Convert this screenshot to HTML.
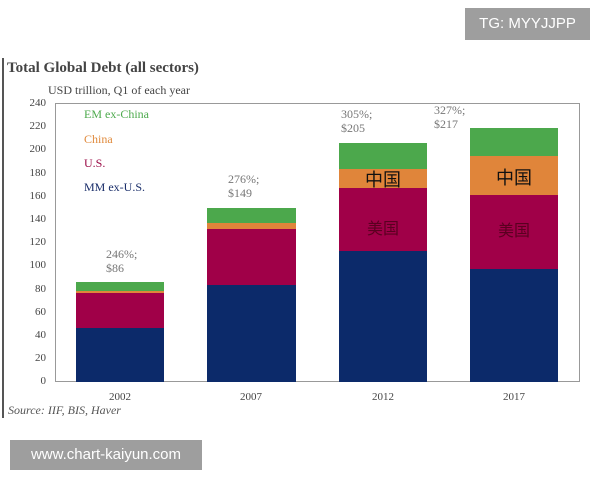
<!DOCTYPE html>
<html><head><meta charset="utf-8"><style>
body{margin:0;width:600px;height:480px;background:#fff;position:relative;overflow:hidden;font-family:"Liberation Serif","Noto Serif CJK SC",serif}
.a{position:absolute}
.t{font-size:11px;color:#444}
.bar{position:absolute}
</style></head><body>
<div class="a" style="left:465px;top:8px;width:125px;height:32px;background:#9e9e9e;color:#fff;font:15px 'Liberation Sans',sans-serif;line-height:32px;text-align:center">TG: MYYJJPP</div>
<div class="a" style="left:2px;top:58px;width:2px;height:360px;background:#555"></div>
<div class="a" style="left:7px;top:60px;font-weight:bold;font-size:15px;color:#444">Total Global Debt (all sectors)</div>
<div class="a t" style="left:48px;top:83px;font-size:12px">USD trillion, Q1 of each year</div>
<div class="a" style="left:55px;top:103px;width:525px;height:279px;border:1px solid #999;box-sizing:border-box"></div>
<div class="a t" style="left:20px;top:96px;width:26px;text-align:right;line-height:14px">
<div style="height:23.2px">240</div><div style="height:23.2px">220</div><div style="height:23.2px">200</div><div style="height:23.2px">180</div><div style="height:23.2px">160</div><div style="height:23.2px">140</div><div style="height:23.2px">120</div><div style="height:23.2px">100</div><div style="height:23.2px">80</div><div style="height:23.2px">60</div><div style="height:23.2px">40</div><div style="height:23.2px">20</div><div style="height:23.2px">0</div></div>
<div class="a" style="left:84px;top:107px;font-size:12px;color:#4caa4c">EM ex-China</div>
<div class="a" style="left:84px;top:132px;font-size:12px;color:#e08a3c">China</div>
<div class="a" style="left:84px;top:156px;font-size:12px;color:#9a0a45">U.S.</div>
<div class="a" style="left:84px;top:180px;font-size:12px;color:#1a2e6a">MM ex-U.S.</div>
<!-- bars -->
<div class="bar" style="left:76px;top:282px;width:88px;height:10px;background:#4ca84c"></div>
<div class="bar" style="left:76px;top:291px;width:88px;height:3px;background:#e0853a"></div>
<div class="bar" style="left:76px;top:293px;width:88px;height:35px;background:#a00048"></div>
<div class="bar" style="left:76px;top:328px;width:88px;height:54px;background:#0c2a6a"></div>
<div class="bar" style="left:207px;top:208px;width:89px;height:15px;background:#4ca84c"></div>
<div class="bar" style="left:207px;top:223px;width:89px;height:6px;background:#e0853a"></div>
<div class="bar" style="left:207px;top:229px;width:89px;height:56px;background:#a00048"></div>
<div class="bar" style="left:207px;top:285px;width:89px;height:97px;background:#0c2a6a"></div>
<div class="bar" style="left:339px;top:143px;width:88px;height:26px;background:#4ca84c"></div>
<div class="bar" style="left:339px;top:169px;width:88px;height:19px;background:#e0853a"></div>
<div class="bar" style="left:339px;top:188px;width:88px;height:63px;background:#a00048"></div>
<div class="bar" style="left:339px;top:251px;width:88px;height:131px;background:#0c2a6a"></div>
<div class="bar" style="left:470px;top:128px;width:88px;height:28px;background:#4ca84c"></div>
<div class="bar" style="left:470px;top:156px;width:88px;height:39px;background:#e0853a"></div>
<div class="bar" style="left:470px;top:195px;width:88px;height:74px;background:#a00048"></div>
<div class="bar" style="left:470px;top:269px;width:88px;height:113px;background:#0c2a6a"></div>
<div class="a" style="left:339px;top:166px;width:88px;text-align:center;font:18px 'Noto Sans CJK SC',sans-serif;color:#111">中国</div>
<div class="a" style="left:470px;top:164px;width:88px;text-align:center;font:18px 'Noto Sans CJK SC',sans-serif;color:#111">中国</div>
<div class="a" style="left:339px;top:215px;width:88px;text-align:center;font:16px 'Noto Sans CJK SC',sans-serif;color:#5a0020">美国</div>
<div class="a" style="left:470px;top:217px;width:88px;text-align:center;font:16px 'Noto Sans CJK SC',sans-serif;color:#5a0020">美国</div>
<div class="a t" style="left:106px;top:247px;font-size:12px;line-height:14px;color:#777">246%;<br>$86</div>
<div class="a t" style="left:228px;top:172px;font-size:12px;line-height:14px;color:#777">276%;<br>$149</div>
<div class="a t" style="left:341px;top:107px;font-size:12px;line-height:14px;color:#777">305%;<br>$205</div>
<div class="a t" style="left:434px;top:103px;font-size:12px;line-height:14px;color:#777">327%;<br>$217</div>
<div class="a t" style="left:100px;top:391px;width:40px;text-align:center">2002</div>
<div class="a t" style="left:231px;top:391px;width:40px;text-align:center">2007</div>
<div class="a t" style="left:363px;top:391px;width:40px;text-align:center">2012</div>
<div class="a t" style="left:494px;top:391px;width:40px;text-align:center">2017</div>
<div class="a" style="left:8px;top:403px;font-size:12px;font-style:italic;color:#555">Source: IIF, BIS, Haver</div>
<div class="a" style="left:10px;top:440px;width:192px;height:30px;background:#9e9e9e;color:#fff;font:15px 'Liberation Sans',sans-serif;line-height:30px;text-align:center">www.chart-kaiyun.com</div>
</body></html>
